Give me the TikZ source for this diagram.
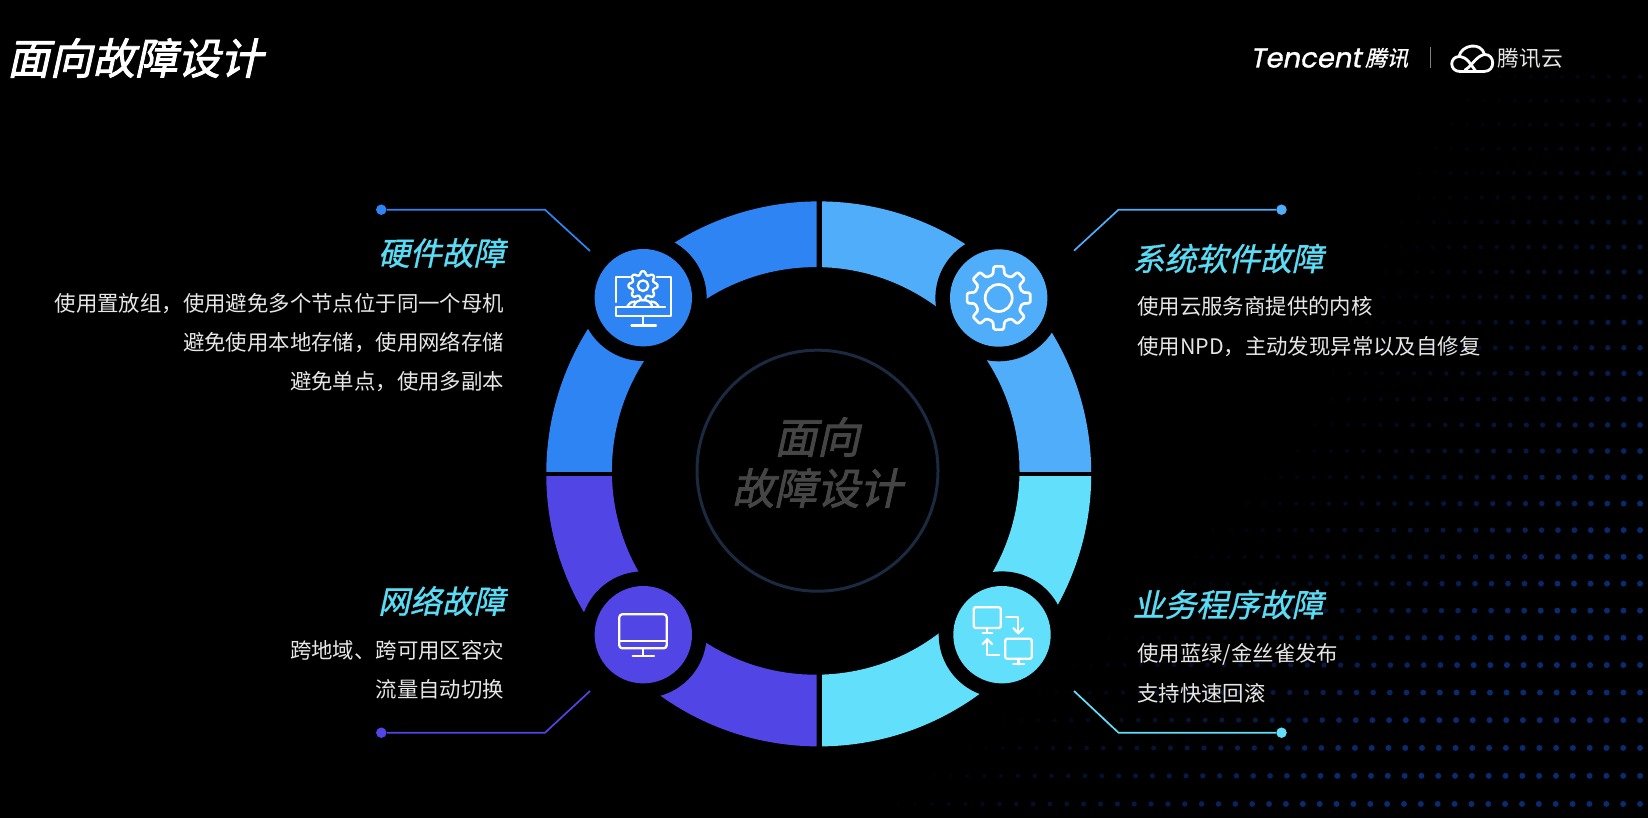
\documentclass[tikz,border=0pt]{standalone}
\usepackage{fontspec}
\setmainfont{Noto Sans CJK SC}
\newfontfamily\bodyfont{Noto Sans CJK SC}
\newfontfamily\titlefont[FakeSlant=0.22,FakeBold=2]{Noto Sans CJK SC}
\newfontfamily\headfont[FakeSlant=0.22,FakeBold=1]{Noto Sans CJK SC}
\newfontfamily\logofont[FakeSlant=0.2,FakeBold=1.2]{Poppins}
\definecolor{cTL}{HTML}{2F84F3}
\definecolor{cTR}{HTML}{4FADF9}
\definecolor{cBR}{HTML}{62E0FB}
\definecolor{cBL}{HTML}{5145E5}
\definecolor{cHead}{HTML}{59DCF5}
\definecolor{cBody}{HTML}{E6E6E6}
\definecolor{cCenter}{HTML}{454545}
\definecolor{cRing}{HTML}{1B2A40}
\definecolor{cDot}{HTML}{0A2A72}
\tikzset{
  halo/.style={circle,fill=black,inner sep=0pt,minimum size=126.6pt},
  badge/.style={circle,inner sep=0pt,minimum size=97.4pt},
  tipdot/.style={circle,inner sep=0pt,minimum size=10.5pt},
  leader/.style={line width=1.7pt},
  head/.style={inner sep=0pt,text=cHead,font=\headfont\fontsize{31.8}{36}\selectfont},
  bodyline/.style={inner sep=0pt,text=cBody,font=\bodyfont\fontsize{21.4}{26}\selectfont},
  centertext/.style={inner sep=0pt,text=cCenter,font=\titlefont\fontsize{42.6}{48}\selectfont},
  icon/.style={draw=white,line width=2.3pt,line join=round,line cap=round},
}
\newcommand{\gearshape}[6]{% cx cy tip root n phase
  \draw[icon,rounded corners=1.4pt]
    ({#1+#4*cos(#6-14)},{#2+#4*sin(#6-14)})
    \foreach \gi in {1,...,#5}{
      \pgfextra{\pgfmathsetmacro\ga{#6+(\gi-1)*360/#5}}
      -- ({#1+#3*cos(\ga-9)},{#2+#3*sin(\ga-9)})
      -- ({#1+#3*cos(\ga+9)},{#2+#3*sin(\ga+9)})
      -- ({#1+#4*cos(\ga+14)},{#2+#4*sin(\ga+14)})
      -- ({#1+#4*cos(\ga+360/#5-14)},{#2+#4*sin(\ga+360/#5-14)})
    } -- cycle;
}
\newcommand{\ringpart}[5]{% colour x1 y1 x2 y2
  \begin{scope}
    \clip (#2,#3) rectangle (#4,#5);
    \fill[#1,even odd rule] (818.75,473.9) circle[radius=272.5pt] (815.7,470.9) circle[radius=203.8pt];
  \end{scope}
}
\begin{document}
\begin{tikzpicture}[x=1pt,y=-1pt]
\useasboundingbox (0,0) rectangle (1648,818);
\fill[black] (0,0) rectangle (1648,818);
% dot field
\foreach \rk in {0,...,28}{
  \pgfmathsetmacro\ry{76.7+23.78*\rk+0.0783*\rk*\rk}
  \pgfmathsetmacro\rs{15.6+0.045*\rk}
  \pgfmathsetmacro\rz{min(1420-0.4*(\ry-100),1290-0.9*(\ry-425),1123-1.25*(\ry-610))}
  \pgfmathsetmacro\rf{min(1,0.42+(\ry-77)/450)}
  \foreach \cj in {0,...,48}{
    \pgfmathsetmacro\cx{1640-\rs*\cj}
    \pgfmathsetmacro\dt{min(1,max(0,(\cx-\rz)/420))}
    \pgfmathtruncatemacro\dp{100*\dt*\rf}
    \pgfmathsetmacro\dr{2+1*\dt}
    \ifnum\dp>3
      \fill[cDot!\dp!black] (\cx,\ry) circle[radius=\dr pt];
    \fi
  }
}
% ring quadrants
\ringpart{cTL}{540}{195}{816.7}{471}
\ringpart{cTR}{822}{195}{1100}{471}
\ringpart{cBR}{822}{476.7}{1100}{752}
\ringpart{cBL}{540}{476.7}{816.7}{752}
% centre
\node[circle,draw=cRing,line width=3pt,inner sep=0pt,minimum size=241pt] (hub) at (817.5,470.7) {};
\node[centertext] (hubA) at (817,437) {面向};
\node[centertext] (hubB) at (817,488) {故障设计};
% halos and badges
\node[halo] (hTL) at (643.3,297.7) {};
\node[halo] (hTR) at (998.7,298) {};
\node[halo] (hBR) at (1002,634.7) {};
\node[halo] (hBL) at (643.3,634.7) {};
\node[badge,fill=cTL] (bTL) at (643.3,297.7) {};
\node[badge,fill=cTR] (bTR) at (998.7,298) {};
\node[badge,fill=cBR] (bBR) at (1002,634.7) {};
\node[badge,fill=cBL] (bBL) at (643.3,634.7) {};
% leaders
\node[tipdot,fill=cTL] (dTL) at (381.3,209.7) {};
\coordinate (eTL) at (545,209.7);
\coordinate (fTL) at (590,251);
\draw[leader,cTL] (dTL) -- (eTL) -- (fTL);
\node[tipdot,fill=cTR] (dTR) at (1281.5,209.7) {};
\coordinate (eTR) at (1118.5,209.7);
\coordinate (fTR) at (1074,250.7);
\draw[leader,cTR] (dTR) -- (eTR) -- (fTR);
\node[tipdot,fill=cBR] (dBR) at (1281.5,732.7) {};
\coordinate (eBR) at (1118.5,732.7);
\coordinate (fBR) at (1074,691);
\draw[leader,cBR] (dBR) -- (eBR) -- (fBR);
\node[tipdot,fill=cBL] (dBL) at (381.3,732.7) {};
\coordinate (eBL) at (545,732.7);
\coordinate (fBL) at (590,691);
\draw[leader,cBL] (dBL) -- (eBL) -- (fBL);
% TL icon
\gearshape{643}{285.7}{14.7}{11}{8}{0}
\draw[icon] (643,285.7) circle[radius=5.3pt];
\draw[icon] (616,302) -- (616,277) -- (630,277);
\draw[icon] (657,277) -- (670.7,277) -- (670.7,316) -- (616,316) -- (616,307) -- (665,307);
\draw[icon] (634,306) .. controls (635,298) and (651,298) .. (652,306);
\draw[icon] (627.5,306) .. controls (629,303) and (631,302) .. (635,301.5);
\draw[icon] (658.5,306) .. controls (657,303) and (655,302) .. (651,301.5);
\draw[icon] (643,316) -- (643,325.6);
\draw[icon] (631.5,325.6) -- (656,325.6);
% TR icon
\begin{scope}[icon/.append style={line width=2.7pt}]
\gearshape{998.7}{298}{32}{24}{8}{0}
\draw[icon] (998.7,298) circle[radius=13.5pt];
\end{scope}
% BR icon
\draw[icon,rounded corners=1.5pt] (973.7,607.3) rectangle (1000.7,628);
\draw[icon] (987,628) -- (987,632.7);
\draw[icon] (982.7,632.7) -- (992.3,632.7);
\draw[icon,rounded corners=1.5pt] (1005.3,638.7) rectangle (1031.7,658.7);
\draw[icon] (1018.5,658.7) -- (1018.5,664.3);
\draw[icon] (1013.3,664.3) -- (1024,664.3);
\draw[icon] (1006.3,617.3) -- (1018.3,617.3) -- (1018.3,633);
\draw[icon] (1013.5,628.3) -- (1018.3,633.3) -- (1023,628.3);
\draw[icon] (999.3,655) -- (987.3,655) -- (987.3,639.3);
\draw[icon] (982.7,644) -- (987.3,639.3) -- (992,644);
% BL icon
\draw[icon,rounded corners=3pt] (619.3,614.3) rectangle (666.7,648.3);
\draw[icon] (619.3,641.3) -- (666.7,641.3);
\draw[icon] (643,648.3) -- (643,656);
\draw[icon] (632.7,656) -- (654,656);
% title
\node[inner sep=0pt,anchor=west,text=white,font=\titlefont\fontsize{42.6}{48}\selectfont] (title) at (7,58) {面向故障设计};
% logo
\node[inner sep=0pt,anchor=west,text=white,font=\logofont\fontsize{27.5}{30}\selectfont] (logoA) at (1250,58) {Tencent};
\node[inner sep=0pt,anchor=west,text=white,font=\headfont\fontsize{21.5}{26}\selectfont] (logoB) at (1365,58) {腾讯};
\node[inner sep=0pt,anchor=west,text=cBody,font=\bodyfont\fontsize{21.7}{26}\selectfont] (logoC) at (1497.5,58) {腾讯云};
\coordinate (barA) at (1430,47);
\coordinate (barB) at (1430,68);
\draw[line width=1pt,color=gray] (barA) -- (barB);
\draw[white,line width=2.8pt,line join=round] (1459,56.5) .. controls (1461,45) and (1481,41) .. (1484.5,54.5)
  .. controls (1495,54) and (1496,71.5) .. (1484,71.5) -- (1460,71.5)
  .. controls (1449,71.5) and (1449,56) .. (1460,56.5)
  .. controls (1467,57) and (1471,65) .. (1476,71.5);
\draw[white,line width=2.8pt,line cap=round] (1465,70) .. controls (1472,66) and (1476,56) .. (1484.5,54.5);
% TL text
\node[head,anchor=east] (hwH) at (505.5,253) {硬件故障};
\node[bodyline,anchor=east] (hw1) at (504.3,304) {使用置放组，使用避免多个节点位于同一个母机};
\node[bodyline,anchor=east] (hw2) at (504.3,343) {避免使用本地存储，使用网络存储};
\node[bodyline,anchor=east] (hw3) at (504.3,381.5) {避免单点，使用多副本};
% TR text
\node[head,anchor=west] (swH) at (1132.5,258.5) {系统软件故障};
\node[bodyline,anchor=west] (sw1) at (1137,306.5) {使用云服务商提供的内核};
\node[bodyline,anchor=west] (sw2) at (1137,347) {使用NPD，主动发现异常以及自修复};
% BR text
\node[head,anchor=west] (bzH) at (1132.5,604.5) {业务程序故障};
\node[bodyline,anchor=west] (bz1) at (1137,654) {使用蓝绿/金丝雀发布};
\node[bodyline,anchor=west] (bz2) at (1137,693) {支持快速回滚};
% BL text
\node[head,anchor=east] (nwH) at (505.5,601) {网络故障};
\node[bodyline,anchor=east] (nw1) at (504.3,650.5) {跨地域、跨可用区容灾};
\node[bodyline,anchor=east] (nw2) at (504.3,689.5) {流量自动切换};
\end{tikzpicture}
\end{document}
